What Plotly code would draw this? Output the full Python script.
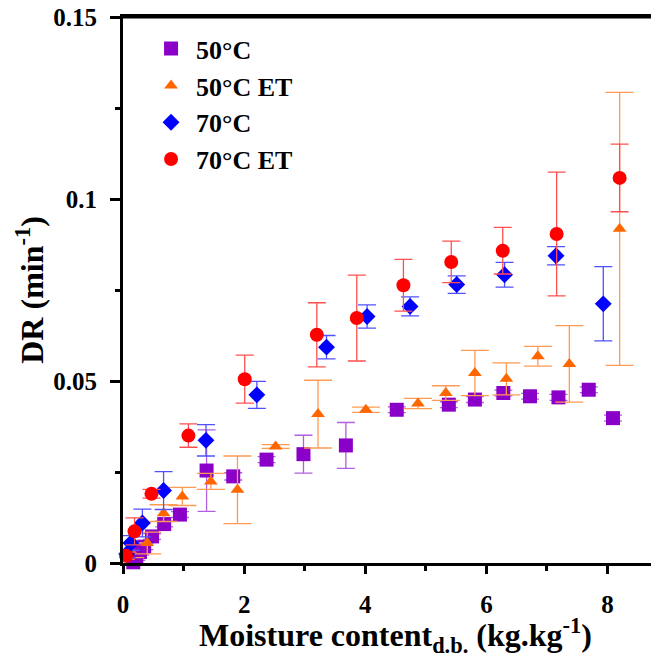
import plotly.graph_objects as go

# 50°C
t50_x = [0.17, 0.22, 0.28, 0.35, 0.48, 0.68, 0.94, 1.38, 1.82, 2.37, 2.98, 3.68, 4.52, 5.38, 5.81, 6.28, 6.72, 7.19, 7.69, 8.09]
t50_y = [0.0002, 0.0015, 0.0030, 0.0045, 0.0073, 0.0107, 0.0133, 0.0254, 0.0238, 0.0284, 0.0299, 0.0323, 0.0421, 0.0435, 0.0449, 0.0467, 0.0458, 0.0455, 0.0476, 0.0398]
t50_e = [0.0008, 0.0008, 0.0008, 0.0008, 0.0008, 0.0008, 0.0008, 0.0112, 0.0010, 0.0008, 0.0052, 0.0063, 0.0008, 0.0008, 0.0008, 0.0008, 0.0008, 0.0008, 0.0008, 0.0008]

# 50°C ET
et50_x = [0.12, 0.40, 0.67, 0.98, 1.45, 1.89, 2.52, 3.22, 4.01, 4.87, 5.33, 5.81, 6.33, 6.85, 7.37, 8.20]
et50_y = [0.0035, 0.0055, 0.0137, 0.0183, 0.0224, 0.0201, 0.0320, 0.0409, 0.0421, 0.0438, 0.0467, 0.0522, 0.0506, 0.0568, 0.0547, 0.0918]
et50_e = [0.0020, 0.0030, 0.0023, 0.0025, 0.0022, 0.0093, 0.0005, 0.0093, 0.0007, 0.0014, 0.0020, 0.0062, 0.0044, 0.0027, 0.0105, 0.0375]

# 70°C
t70_x = [0.06, 0.13, 0.32, 0.67, 1.37, 2.21, 3.36, 4.03, 4.74, 5.51, 6.30, 7.15, 7.93]
t70_y = [0.0025, 0.0055, 0.0110, 0.0199, 0.0337, 0.0462, 0.0593, 0.0677, 0.0705, 0.0765, 0.0792, 0.0844, 0.0712]
t70_e = [0.0010, 0.0020, 0.0038, 0.0052, 0.0043, 0.0037, 0.0032, 0.0032, 0.0026, 0.0024, 0.0034, 0.0025, 0.0102]

# 70°C ET
et70_x = [0.05, 0.19, 0.47, 1.08, 2.01, 3.20, 3.86, 4.63, 5.42, 6.27, 7.16, 8.20]
et70_y = [0.0020, 0.0087, 0.0190, 0.0350, 0.0505, 0.0627, 0.0673, 0.0763, 0.0827, 0.0858, 0.0904, 0.1058]
et70_e = [0.0010, 0.0037, 0.0012, 0.0032, 0.0066, 0.0088, 0.0118, 0.0071, 0.0057, 0.0064, 0.0170, 0.0093]

x_ticks = [0, 2, 4, 6, 8]
y_ticks = [0, 0.05, 0.1, 0.15]
y_tick_labels = ["0", "0.05", "0.1", "0.15"]

FONT = "Liberation Serif"

series = [
    ("50°C", t50_x, t50_y, t50_e, "#8A00C8", "#B060E0", "square", 14, 9),
    ("50°C ET", et50_x, et50_y, et50_e, "#FF6600", "#FF9A55", "triangle-up", 12, 14),
    ("70°C", t70_x, t70_y, t70_e, "#0000FF", "#5050FF", "diamond", 13, 9),
    ("70°C ET", et70_x, et70_y, et70_e, "#FF0000", "#FF5050", "circle", 14, 9),
]

fig = go.Figure()
for name, xs, ys, es, col, ecol, sym, size, capw in series:
    fig.add_trace(go.Scatter(
        x=xs, y=ys, mode="markers", name=name, cliponaxis=False,
        marker=dict(symbol=sym, size=size, color=col, line=dict(width=0)),
        error_y=dict(type="data", array=es, visible=True, color=ecol, thickness=1.3, width=capw),
    ))

fig.update_layout(
    width=659, height=657,
    margin=dict(l=115, r=8, t=9, b=102, autoexpand=False),
    plot_bgcolor="white", paper_bgcolor="white",
    font=dict(family=FONT, color="black"),
    showlegend=True,
    legend=dict(
        x=0.043, y=0.985, xanchor="left", yanchor="top",
        font=dict(family=FONT, size=26, color="black", weight="bold"),
        bgcolor="rgba(0,0,0,0)", tracegroupgap=0, itemsizing="trace", itemwidth=40,
    ),
    xaxis=dict(
        range=[0, 8.85], tickvals=x_ticks, ticktext=[str(v) for v in x_ticks],
        showline=True, linecolor="black", linewidth=3, mirror=True,
        ticks="outside", ticklen=8, tickwidth=2.5, tickcolor="black",
        minor=dict(dtick=1, ticks="outside", ticklen=5, tickwidth=2.5, tickcolor="black"),
        showgrid=False, zeroline=False, automargin=False,
        ticklabelstandoff=9, ticklabeloverflow="allow",
        tickfont=dict(family=FONT, size=25, color="black", weight="bold"),
    ),
    yaxis=dict(
        range=[0, 0.15], tickvals=y_ticks, ticktext=y_tick_labels,
        showline=True, linecolor="black", linewidth=3, mirror=False,
        ticks="outside", ticklen=10, tickwidth=2.5, tickcolor="black",
        minor=dict(dtick=0.025, ticks="outside", ticklen=5, tickwidth=2.5, tickcolor="black"),
        showgrid=False, zeroline=False, automargin=False,
        ticklabelstandoff=8, ticklabeloverflow="allow",
        tickfont=dict(family=FONT, size=25, color="black", weight="bold"),
    ),
    shapes=[
        dict(type="line", xref="paper", yref="paper", x0=0, x1=1.02, y0=1, y1=1,
             line=dict(color="black", width=3)),
    ],
    annotations=[
        dict(text="Moisture content<sub>d.b.</sub> (kg.kg<sup>-1</sup>)",
             xref="paper", yref="paper", x=0.509, y=-0.133, xanchor="center", yanchor="middle",
             showarrow=False, font=dict(family=FONT, size=32, color="black", weight="bold")),
        dict(text="DR (min<sup>-1</sup>)", textangle=-90,
             xref="paper", yref="paper", x=-0.174, y=0.5, xanchor="center", yanchor="middle",
             showarrow=False, font=dict(family=FONT, size=32, color="black", weight="bold")),
    ],
)

fig.write_html("out.html")
